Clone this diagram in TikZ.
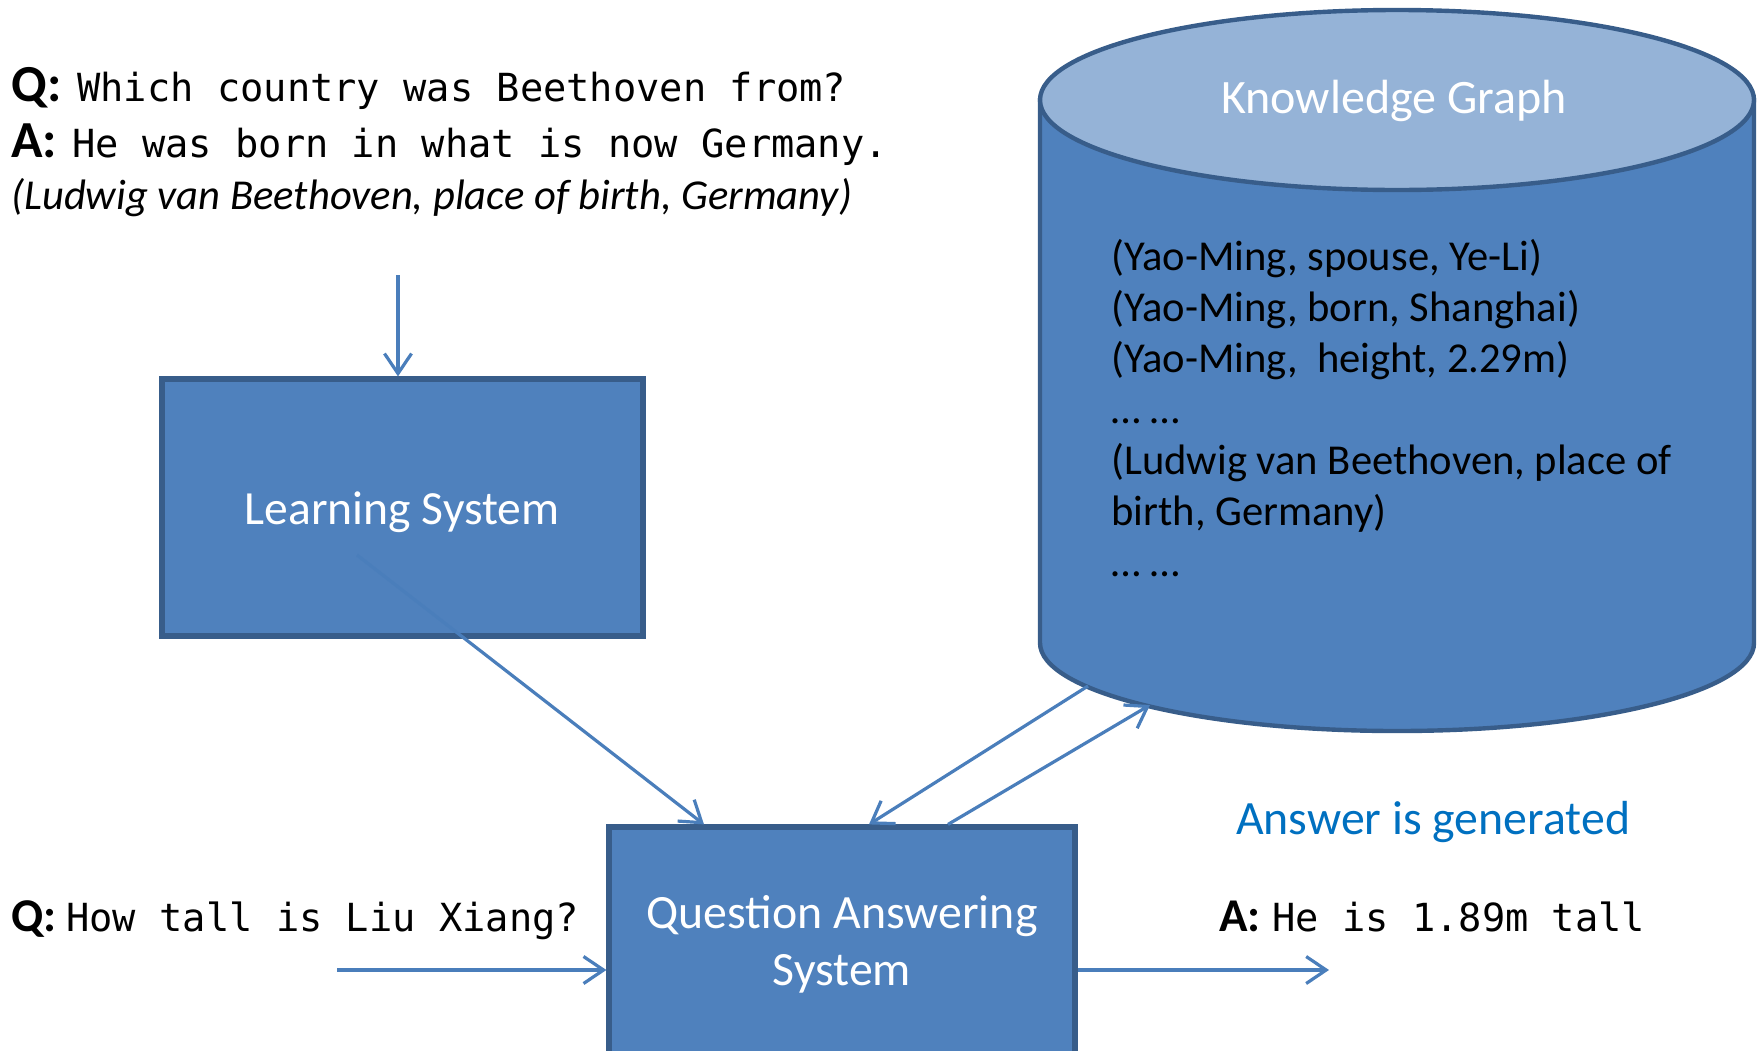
\documentclass[tikz,border=0pt]{standalone}
\usepackage{fontspec}
\setmainfont{Carlito}
\newfontfamily\codefont{DejaVu Sans Mono}
\usetikzlibrary{arrows.meta,calc}
\definecolor{boxfill}{HTML}{4F81BD}
\definecolor{boxline}{HTML}{385D8A}
\definecolor{arrowc}{HTML}{4A7EBB}
\definecolor{lidfill}{HTML}{95B3D7}
\definecolor{answerblue}{HTML}{0070C0}
\begin{document}
\begin{tikzpicture}[x=0.5pt,y=-0.5pt,
  sysbox/.style={draw=boxline, line width=2.6pt, fill=boxfill, inner sep=0pt},
  flow/.style={draw=arrowc, line width=1.6pt,
    -{Straight Barb[length=10pt,width=13.5pt,line width=1.6pt]}},
  whitelbl/.style={text=white, font=\fontsize{23.9}{28.5}\selectfont, inner sep=0pt, anchor=base},
  code/.style={font=\fontsize{19.35}{24}\selectfont\codefont, anchor=base west, inner sep=0pt},
  qalbl/.style={font=\fontsize{26}{30}\selectfont\bfseries, anchor=base west, inner sep=0pt},
  qasmall/.style={qalbl, font=\fontsize{23.5}{28}\selectfont\bfseries},
  triple/.style={font=\fontsize{21.3}{25}\selectfont, anchor=base west, inner sep=0pt},
]
\useasboundingbox (0,0) rectangle (1759,1050);
\clip (0,0) rectangle (1759,1050);

% ---- knowledge graph cylinder ----
\filldraw[draw=boxline, line width=2.2pt, fill=boxfill]
  (1040,100) -- (1040,643) arc[start angle=180, end angle=0, x radius=357, y radius=88]
  -- (1754,100) -- cycle;
\filldraw[draw=boxline, line width=2.2pt, fill=lidfill]
  (1397,100) ellipse[x radius=357, y radius=90];
\node[whitelbl, font=\fontsize{24}{28.5}\selectfont] (kg) at (1394,113) {Knowledge Graph};
\node[triple] (t1) at (1111,270) {(Yao-Ming, spouse, Ye-Li)};
\node[triple] (t2) at (1111,321) {(Yao-Ming, born, Shanghai)};
\node[triple] (t3) at (1111,372) {(Yao-Ming,\ \ height, 2.29m)};
\node[triple] (t4) at (1111,423) {\dots\ \dots};
\node[triple] (t5) at (1111,474) {(Ludwig van Beethoven, place of};
\node[triple] (t6) at (1111,525) {birth, Germany)};
\node[triple] (t7) at (1111,576) {\dots\ \dots};
\coordinate (kgout) at (1088,686);
\coordinate (kgin) at (1150,705);

% ---- training example ----
\node[qalbl] (q1) at (11,101) {Q:};
\node[code] (q1t) at (77,101) {Which country was Beethoven from?};
\node[qalbl] (a1) at (11,157) {A:};
\node[code] (a1t) at (72,157) {He was born in what is now Germany.};
\node[font=\fontsize{21.3}{24}\selectfont\itshape, anchor=base west, inner sep=0pt] (fact)
  at (11,209) {(Ludwig van Beethoven, place of birth, Germany)};
\coordinate (train) at (398,275);

% ---- systems ----
\node[sysbox, minimum width=240.5pt, minimum height=128.5pt] (ls) at (402.5,507.5) {};
\node[whitelbl, font=\fontsize{23.8}{28.5}\selectfont] (lslbl) at (402,524) {Learning System};
\node[sysbox, minimum width=233pt, minimum height=130pt] (qa) at (842,957) {};
\node[whitelbl] (qalbl1) at (842,928) {Question Answering};
\node[whitelbl] (qalbl2) at (842,985) {System};

% ---- test question and answer ----
\node[qasmall] (q2) at (11,931) {Q:};
\node[code] (q2t) at (66,931) {How tall is Liu Xiang?};
\node[qasmall] (a2) at (1219,931) {A:};
\node[code] (a2t) at (1272,931) {He is 1.89m tall};
\node[font=\fontsize{23.9}{28}\selectfont, text=answerblue, anchor=base, inner sep=0pt] (gen)
  at (1433,834) {Answer is generated};
\coordinate (qin) at (337,970);
\coordinate (aout) at (1329,970);
\coordinate (lsout) at (357,555);

% ---- connectors ----
\draw[flow] (train) -- (train |- ls.north);
\draw[flow] (lsout) -- ($(qa.north)+(-138,0)$);
\draw[flow] (kgout) -- ($(qa.north)+(27,0)$);
\draw[flow] ($(qa.north)+(106,0)$) -- (kgin);
\draw[flow] (qin) -- (qin -| qa.west);
\draw[flow] (qin -| qa.east) -- (aout);
\end{tikzpicture}
\end{document}
